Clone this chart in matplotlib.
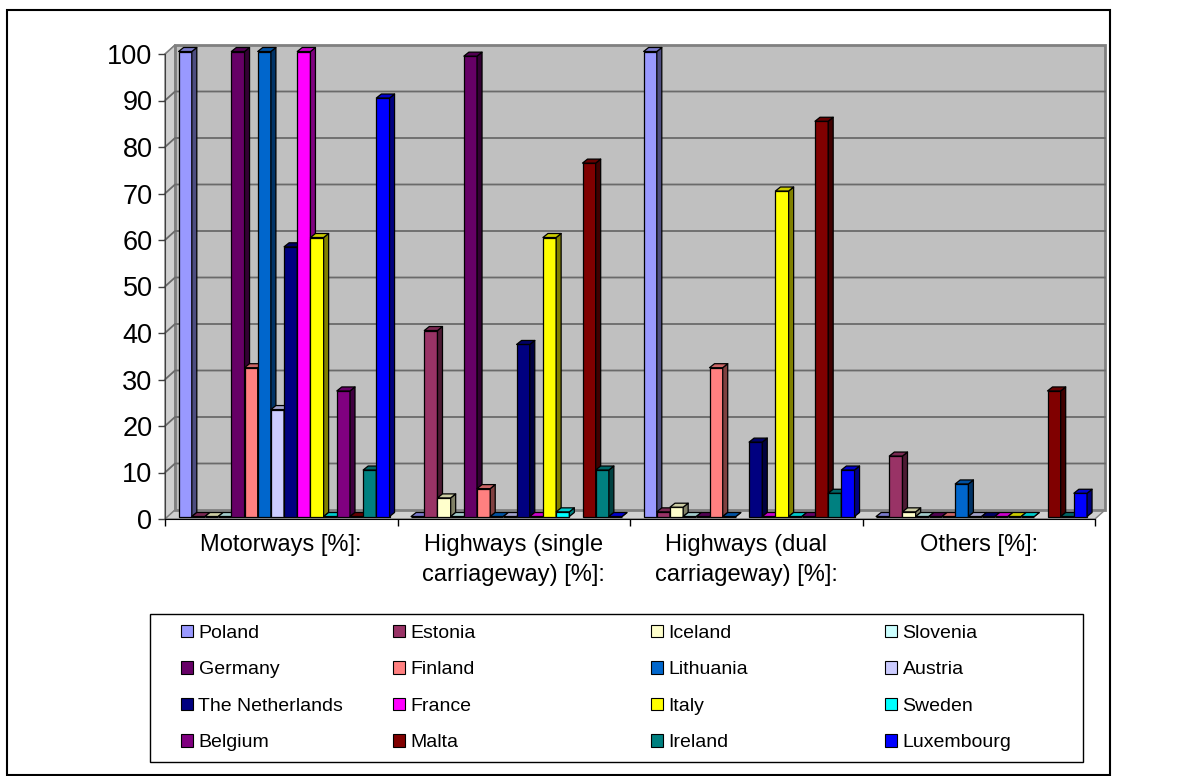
import matplotlib
matplotlib.use("Agg")
import matplotlib.pyplot as plt
from matplotlib.patches import Rectangle, Polygon, Patch
from matplotlib.collections import PolyCollection
import numpy as np

plt.rcParams["font.family"] = ["Liberation Sans", "DejaVu Sans"]

# ---------------------------------------------------------------- data
categories = ["Motorways [%]:", "Highways (single\ncarriageway) [%]:",
              "Highways (dual\ncarriageway) [%]:", "Others [%]:"]

countries = ["Poland", "Estonia", "Iceland", "Slovenia",
             "Germany", "Finland", "Lithuania", "Austria",
             "The Netherlands", "France", "Italy", "Sweden",
             "Belgium", "Malta", "Ireland", "Luxembourg"]

colours = ["#9999FF", "#993366", "#FFFFCC", "#CCFFFF",
           "#660066", "#FF8080", "#0066CC", "#CCCCFF",
           "#000080", "#FF00FF", "#FFFF00", "#00FFFF",
           "#800080", "#800000", "#008080", "#0000FF"]

nan = np.nan
# one list per country: motorways, single, dual, others
poland      = [100, 0, 100, 0]
estonia     = [0, 40, 1, 13]
iceland     = [0, 4, 2, 1]
slovenia    = [0, 0, 0, 0]
germany     = [100, 99, 0, 0]
finland     = [32, 6, 32, 0]
lithuania   = [100, 0, 0, 7]
austria     = [23, 0, nan, 0]
netherlands = [58, 37, 16, 0]
france      = [100, 0, 0, 0]
italy       = [60, 60, 70, 0]
sweden      = [0, 1, 0, 0]
belgium     = [27, nan, 0, nan]
malta       = [0, 76, 85, 27]
ireland     = [10, 10, 5, 0]
luxembourg  = [90, 0, 10, 5]

values = [poland, estonia, iceland, slovenia, germany, finland, lithuania, austria,
          netherlands, france, italy, sweden, belgium, malta, ireland, luxembourg]

yticks = list(range(0, 101, 10))

# ---------------------------------------------------------------- layout
W_PX, H_PX = 1184, 776
fig = plt.figure(figsize=(W_PX / 100, H_PX / 100), dpi=100)

# outer chart border
fig.add_artist(Rectangle((7 / W_PX, 1 - 775 / H_PX), 1103 / W_PX, 765 / H_PX,
                         transform=fig.transFigure, fill=False, lw=1.5, ec="black"))

ax_l, ax_r, ax_t, ax_b = 165, 1095, 54, 519
ax = fig.add_axes([ax_l / W_PX, 1 - ax_b / H_PX, (ax_r - ax_l) / W_PX, (ax_b - ax_t) / H_PX])
ax.set_xlim(0, 4)
ax.set_ylim(0, 100)
ax.patch.set_visible(False)

PX = 4 / (ax_r - ax_l)       # data units per pixel
PY = 100 / (ax_b - ax_t)
DX, DY = 10 * PX, 9 * PY     # wall depth
BX, BY = 2 * PX, 2.5 * PY    # bar front offset
bdx, bdy = 5 * PX, 4 * PY    # bar depth

# walls and floor
ax.add_patch(Polygon([(0, 0), (DX, DY), (DX, 100 + DY), (0, 100)], closed=True,
                     fc="#D0D0D0", ec="#808080", lw=1, zorder=0, clip_on=False))
ax.add_patch(Polygon([(0, 0), (4, 0), (4 + DX, DY), (DX, DY)], closed=True,
                     fc="#D0D0D0", ec="#808080", lw=1, zorder=0, clip_on=False))
ax.add_patch(Rectangle((DX, DY), 4, 100, fc="#C0C0C0", ec="#808080", lw=2,
                       zorder=0.5, clip_on=False))
for v in yticks[1:-1]:
    ax.plot([0, DX, 4 + DX], [v, v + DY, v + DY], color="#6A6A6A", lw=1.3,
            zorder=1, clip_on=False)
ax.plot([0, DX], [100, 100 + DY], color="#808080", lw=1, zorder=1, clip_on=False)

# bars
START, W = 0.05, 0.0567
cat_x = np.arange(len(categories))
for j, (vals, col) in enumerate(zip(values, colours)):
    vals = np.array(vals, dtype=float)
    ok = ~np.isnan(vals)
    x0 = cat_x[ok] + START + j * W + BX
    h = vals[ok]
    z = 3 + j * 0.01
    rgb = np.array(matplotlib.colors.to_rgb(col))
    ax.bar(x0, h, width=W, bottom=BY, align="edge", color=col,
           edgecolor="black", lw=0.9, zorder=z, clip_on=False)
    sides = [[(x + W, BY), (x + W + bdx, BY + bdy), (x + W + bdx, BY + v + bdy), (x + W, BY + v)]
             for x, v in zip(x0, h)]
    tops = [[(x, BY + v), (x + bdx, BY + v + bdy), (x + W + bdx, BY + v + bdy), (x + W, BY + v)]
            for x, v in zip(x0, h)]
    ax.add_collection(PolyCollection(sides, facecolors=[rgb * 0.5], edgecolors="black",
                                     linewidths=0.9, zorder=z, clip_on=False))
    ax.add_collection(PolyCollection(tops, facecolors=[rgb * 0.8], edgecolors="black",
                                     linewidths=0.9, zorder=z, clip_on=False))

# axes
for s in ["top", "right"]:
    ax.spines[s].set_visible(False)
ax.spines["left"].set_color("#404040")
ax.spines["bottom"].set_color("black")
ax.spines["left"].set_zorder(2)
ax.set_yticks(yticks)
ax.set_yticklabels([str(t) for t in yticks])
ax.tick_params(axis="y", length=5, width=1, pad=4, labelsize=19.5, color="#404040")
ax.set_xticks(range(len(categories) + 1))
ax.set_xticklabels([""] * (len(categories) + 1))
ax.tick_params(axis="x", which="major", length=5, width=1, direction="out")
ax.set_xticks(cat_x + 0.5, minor=True)
ax.set_xticklabels(categories, minor=True, fontsize=17, linespacing=1.45)
ax.tick_params(axis="x", which="minor", length=0, pad=11)

# legend: four columns with equal widths, one frame
handles = [Patch(facecolor=c, edgecolor="black", lw=0.8) for c in colours]
col_x = [181, 393, 651, 885]
for c, x in enumerate(col_x):
    idx = [r * 4 + c for r in range(4)]
    leg = fig.legend([handles[i] for i in idx], [countries[i] for i in idx],
                     loc="upper left", bbox_to_anchor=(x / W_PX, 1 - 625 / H_PX),
                     frameon=False, fontsize=14, handlelength=0.6, handleheight=0.6,
                     handletextpad=0.3, labelspacing=1.0, borderpad=0, borderaxespad=0)
fig.add_artist(Rectangle((150 / W_PX, 1 - 762 / H_PX), 933 / W_PX, 148 / H_PX,
                         transform=fig.transFigure, fill=False, lw=1, ec="black"))

fig.savefig("out.png", dpi=100)
